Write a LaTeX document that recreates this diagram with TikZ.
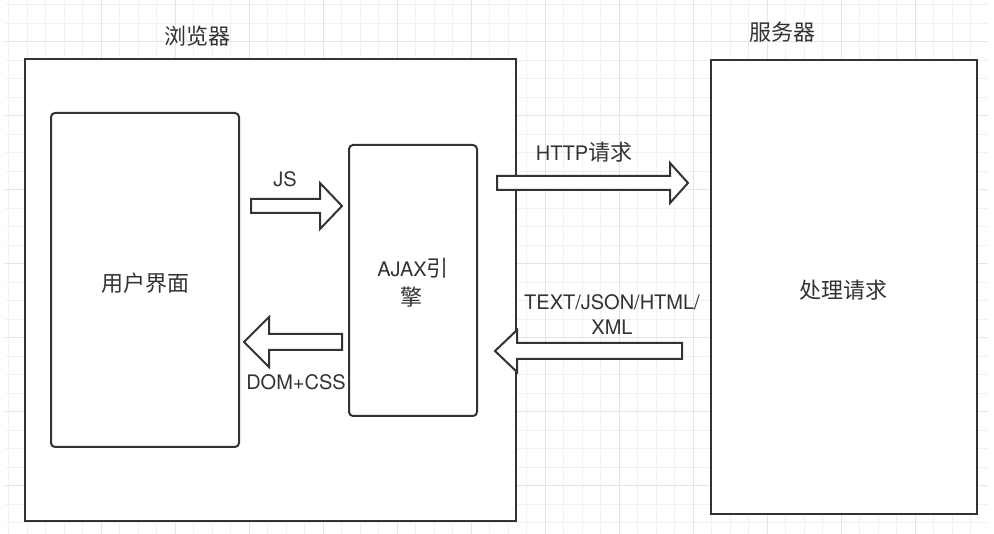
\documentclass[tikz,border=0pt]{standalone}
\usepackage{fontspec}
\setmainfont{TeX Gyre Heros}
\newfontfamily\cjk{Noto Sans CJK SC}
\newcommand\zh[1]{{\cjk\fontsize{22}{26}\selectfont #1}}
\definecolor{ink}{HTML}{333333}
\definecolor{gridminor}{HTML}{F1F1F1}
\definecolor{gridmajor}{HTML}{E4E4E4}
\begin{document}
\begin{tikzpicture}[x=1pt,y=-1pt,
  outerbox/.style={draw=ink,line width=2.4pt,fill=white,inner sep=0pt},
  innerbox/.style={draw=ink,line width=2pt,fill=white,rounded corners=4pt,inner sep=0pt,align=center,text=ink},
  lbl/.style={text=ink,inner sep=0pt,align=center,font=\fontsize{20}{25}\selectfont},
  blockarrow/.style={draw=ink,line width=2pt,fill=white,line join=miter},
  minorline/.style={draw=gridminor,line width=1pt},
  majorline/.style={draw=gridmajor,line width=1pt}]
\useasboundingbox (0,0) rectangle (994,534);
\fill[white] (0,0) rectangle (994,534);
% grid
\foreach \i in {0,...,52}{\draw[minorline] ({8.5+18.5*\i},0) -- ({8.5+18.5*\i},534);}
\foreach \j in {0,...,28}{\draw[minorline] (5,{5+18.5*\j}) -- (988,{5+18.5*\j});}
\foreach \i in {5,9,...,49}{\draw[majorline] ({8.5+18.5*\i},0) -- ({8.5+18.5*\i},534);}
\foreach \j in {2,6,...,26}{\draw[majorline] (5,{5+18.5*\j}) -- (988,{5+18.5*\j});}
% boxes
\node[outerbox,minimum width=491pt,minimum height=462pt] (browser) at (270.5,290) {};
\node[outerbox,minimum width=266pt,minimum height=454pt,text=ink] (server) at (844,287) {};
\node[lbl] (serverlbl) at (843.5,290) {\zh{处理请求}};
\node[innerbox,minimum width=188pt,minimum height=334pt] (ui) at (145,280) {};
\node[lbl] (uilbl) at (145,283) {\zh{用户界面}};
\node[innerbox,minimum width=128pt,minimum height=271pt] (ajax) at (413,280.5) {};
\node[lbl] (ajaxlbl1) at (413,268) {AJAX\zh{引}};
\node[lbl] (ajaxlbl2) at (411,297) {\zh{擎}};
% titles
\node[lbl] (browserlbl) at (197,36) {\zh{浏览器}};
\node[lbl] (serverttl) at (782,32) {\zh{服务器}};
% block arrows
\draw[blockarrow] (251,199) -- (320,199) -- (320,183) -- (342,206) -- (320,229) -- (320,213) -- (251,213) -- cycle;
\node[lbl] (jslbl) at (285,179.5) {JS};
\draw[blockarrow] (342,334) -- (269,334) -- (269,317) -- (244,342) -- (269,367) -- (269,350) -- (342,350) -- cycle;
\node[lbl] (domlbl) at (296,382.5) {DOM+CSS};
\draw[blockarrow] (497,176) -- (670,176) -- (670,163) -- (688,183) -- (670,203) -- (670,190) -- (497,190) -- cycle;
\node[lbl] (httplbl) at (584,152) {HTTP\zh{请求}};
\draw[blockarrow] (682,343) -- (517,343) -- (517,330) -- (495,351) -- (517,372) -- (517,359) -- (682,359) -- cycle;
\node[lbl] (resplbl1) at (612,302) {TEXT/JSON/HTML/};
\node[lbl] (resplbl2) at (612,327) {XML};
\end{tikzpicture}
\end{document}
